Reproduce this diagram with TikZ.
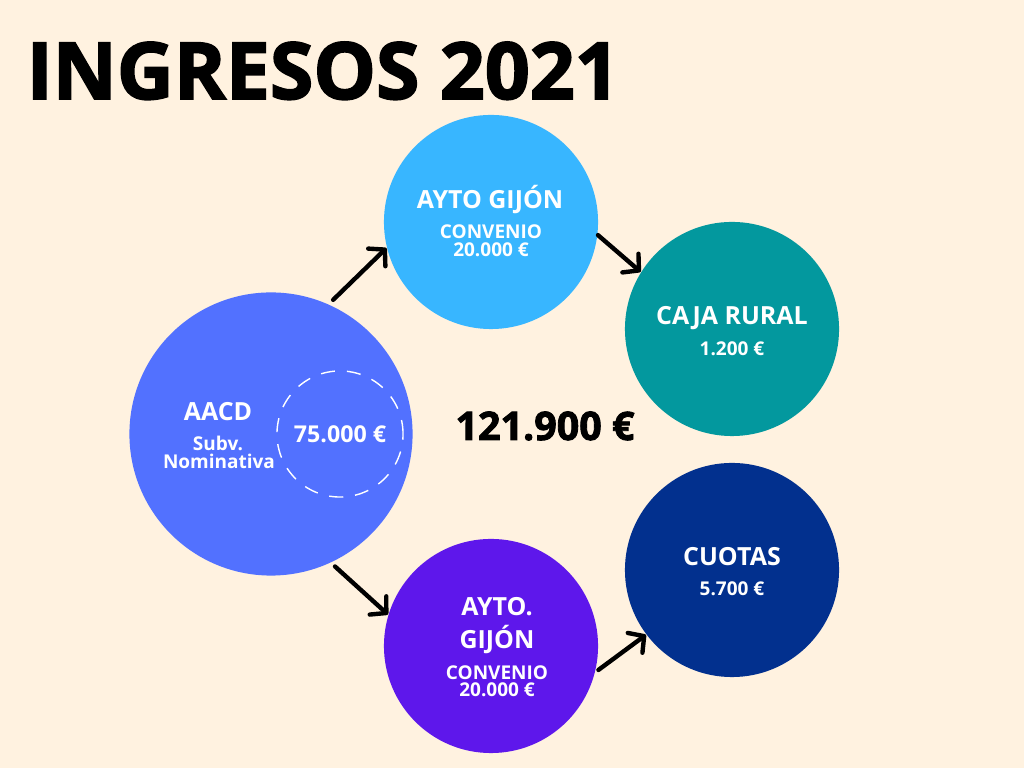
\documentclass[tikz,border=0pt]{standalone}
\usepackage{fontspec}
\setmainfont{Open Sans}
\newfontfamily\heavyfont{Open Sans}[BoldFeatures={FakeBold=2.2}]
\usetikzlibrary{arrows.meta}
\definecolor{cream}{HTML}{FFF2E0}
\definecolor{aacdblue}{HTML}{5271FF}
\definecolor{skyblue}{HTML}{38B6FF}
\definecolor{teal}{HTML}{03989E}
\definecolor{navy}{HTML}{02308E}
\definecolor{violet}{HTML}{5E17EB}

\begin{document}
\begin{tikzpicture}[x=0.01cm,y=-0.01cm,
    bubble/.style={circle,inner sep=0pt,minimum size=2.14cm},
    big/.style={anchor=base,inner sep=0pt,text=white,font=\bfseries\fontsize{7.1}{8}\selectfont},
    small/.style={anchor=base,inner sep=0pt,text=white,font=\bfseries\fontsize{5.4}{6}\selectfont},
    arr/.style={line width=1.25pt,line cap=round,-{Straight Barb[length=3.2pt,width=7pt,round]}}]
        \fill[cream] (0,0) rectangle (1024,768);
        \useasboundingbox (0,0) rectangle (1024,768);
        \node[anchor=base west,inner sep=0pt,font=\heavyfont\bfseries\fontsize{22.4}{24}\selectfont] (title) at (26,99) {INGRESOS 2021};
        \node[anchor=base,inner sep=0pt,font=\heavyfont\bfseries\fontsize{11.2}{12}\selectfont] (total) at (545,440) {121.900 €};
        \node[bubble,fill=aacdblue,minimum size=2.83cm] (aacd) at (271,434) {};
        \node[bubble,fill=skyblue] (aytoa) at (491,222) {};
        \node[bubble,fill=teal] (caja) at (732,329) {};
        \node[bubble,fill=navy] (cuotas) at (732,570) {};
        \node[bubble,fill=violet] (aytob) at (491,646) {};
        \node[circle,draw=white,line width=0.4pt,dash pattern=on 4pt off 3.4pt,minimum size=1.26cm,inner sep=0pt,
              text=white,font=\bfseries\fontsize{6.6}{7}\selectfont] (subv) at (340,434) {75.000 €};
        % texts in the circles
        \node[big] (aacdname) at (218,421) {AACD};
        \node[small] (aacdsub) at (218,451) {Subv.};
        \node[small] (aacdnom) at (219,469) {Nominativa};
        \node[big] (aytoaname) at (490,209) {AYTO GIJÓN};
        \node[small] (aytoaconv) at (491,239) {CONVENIO};
        \node[small] (aytoasum) at (491,257) {20.000 €};
        \node[big] (cajaname) at (732,325) {CAJA RURAL};
        \node[small] (cajasum) at (732,356) {1.200 €};
        \node[big] (cuotasname) at (732,566) {CUOTAS};
        \node[small] (cuotassum) at (732,596) {5.700 €};
        \node[big] (aytobname) at (497,616) {AYTO.};
        \node[big] (aytobcity) at (497,649) {GIJÓN};
        \node[small] (aytobconv) at (497,680) {CONVENIO};
        \node[small] (aytobsum) at (497,697) {20.000 €};
        \draw[arr,shorten <=1.7pt] (aacd.66) -- (aytoa.194);
        \draw[arr] (aytoa.-7) -- (caja.148);
        \draw[arr,shorten <=1.5pt] (aacd.-65) -- (aytob.163);
        \draw[arr,shorten <=1pt] (aytob.-14) -- (cuotas.217);
    \end{tikzpicture}
\end{document}
